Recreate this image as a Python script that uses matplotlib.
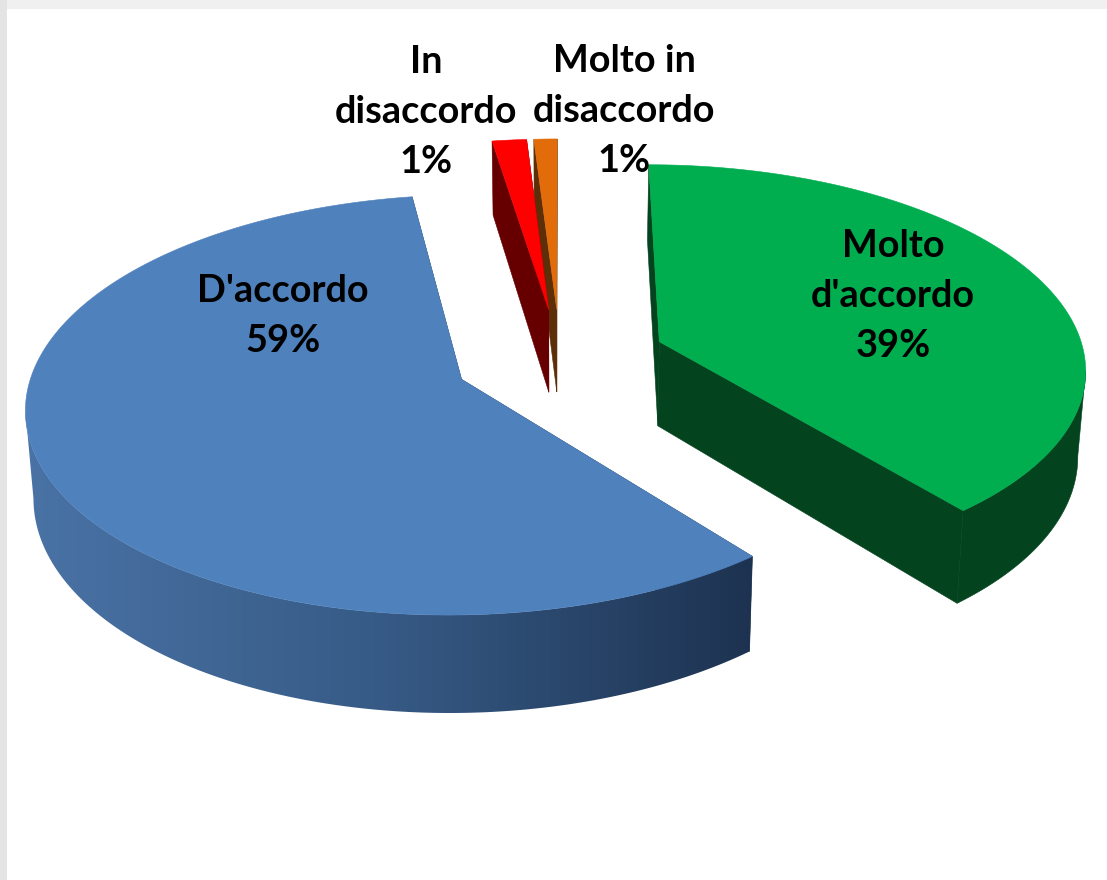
import numpy as np
import matplotlib
matplotlib.use("Agg")
import matplotlib.pyplot as plt
from matplotlib.colors import LinearSegmentedColormap
from matplotlib.patches import Polygon, Rectangle

categories = ["Molto\nd'accordo", "D'accordo", "In\ndisaccordo", "Molto in\ndisaccordo"]
shares = [39.1, 58.4, 1.49, 1.0]
share_labels = ["39%", "59%", "1%", "1%"]

top_colors = ["#00AD4F", "#4F81BD", "#FF0000", "#E36C0A"]
wall_colors = ["#03441F", "#22384F", "#660000", "#5C2F08"]
label_pos = [(893, 296), (283, 316), (426, 112), (624, 111)]

# projection of the exploded pie
CX, CY, A, B, K = 560.0, 358.5, 426.0, 202.0, 0.12
DEPTH, EXPLODE, SHRINK = 85.0, 0.25, 0.985


def project(U, V, lower=False):
    w = 1 - K * V
    x = CX + A * U / w
    y = CY + B * V / w
    if lower:
        x = CX + (x - CX) * SHRINK
        y = y + DEPTH / w
    return np.column_stack([x, y])


fig = plt.figure(figsize=(11.07, 8.8), dpi=100, facecolor="#F0F0F0")
ax = fig.add_axes([0, 0, 1, 1])
ax.axis("off")
ax.add_patch(Rectangle((0, 0), 7, 880, fc="#E4E4E4", ec="none", zorder=0))
ax.add_patch(Rectangle((7, 9), 1100, 871, fc="white", ec="none", zorder=0.5))

wall_gradient = LinearSegmentedColormap.from_list(
    "wall", ["#4A73A6", "#365A85", "#1D3250"])

total = sum(shares)
spans = [360.0 * s / total for s in shares]
starts = np.cumsum([0.0] + spans[:-1])


def draw(i, z):
    t0, span = starts[i], spans[i]
    mid = np.radians(t0 + span / 2)
    ou, ov = EXPLODE * np.sin(mid), -EXPLODE * np.cos(mid)
    t = np.radians(np.linspace(t0, t0 + span, max(int(span * 2), 6) + 1))
    U, V = ou + np.sin(t), ov - np.cos(t)
    u0, v0 = np.array([ou]), np.array([ov])
    top = project(U, V)
    low = project(U, V, True)
    apex = project(u0, v0)
    apex_low = project(u0, v0, True)
    side = wall_colors[i]
    # radial faces
    for k in (0, -1):
        ax.add_patch(Polygon(np.vstack([apex, top[k], low[k], apex_low]),
                             fc=side, ec=side, lw=0.4, zorder=z))
    # rim: only the part of the arc that faces the viewer
    if span > 90:
        lo = int(np.argmax(top[:, 0]))
        hi = int(np.argmin(top[:, 0]))
        if hi <= lo:
            hi = len(t) - 1
        front_top, front_low = top[lo:hi + 1], low[lo:hi + 1]
        rim = Polygon(np.vstack([front_top, front_low[::-1]]),
                      fc=side, ec=side, lw=0.4, zorder=z + 0.1)
        ax.add_patch(rim)
        if i == 1:
            rim.set_facecolor("none")
            rim.set_edgecolor("none")
            x0, x1 = front_top[:, 0].min() - 5, front_top[:, 0].max() + 5
            y0, y1 = front_top[:, 1].min(), front_low[:, 1].max() + 5
            im = ax.imshow(np.linspace(0, 1, 256)[None, :], cmap=wall_gradient,
                           extent=(x0, x1, y1, y0), aspect="auto", zorder=z + 0.1)
            im.set_clip_path(rim)
    ax.add_patch(Polygon(np.vstack([apex, top]), fc=top_colors[i], ec=top_colors[i],
                         lw=0.4, zorder=z + 0.2))


for i, z in zip([1, 0, 3, 2], [1, 2, 3, 4]):
    draw(i, z)

ax.set_xlim(0, 1107)
ax.set_ylim(880, 0)

for name, pct, (x, y) in zip(categories, share_labels, label_pos):
    ax.text(x, y, f"{name}\n{pct}", ha="center", va="center", color="black",
            family=["Lato", "DejaVu Sans"], fontweight="bold", fontsize=27.3,
            linespacing=1.56, zorder=10)

fig.savefig("out.png", dpi=100, facecolor=fig.get_facecolor())
